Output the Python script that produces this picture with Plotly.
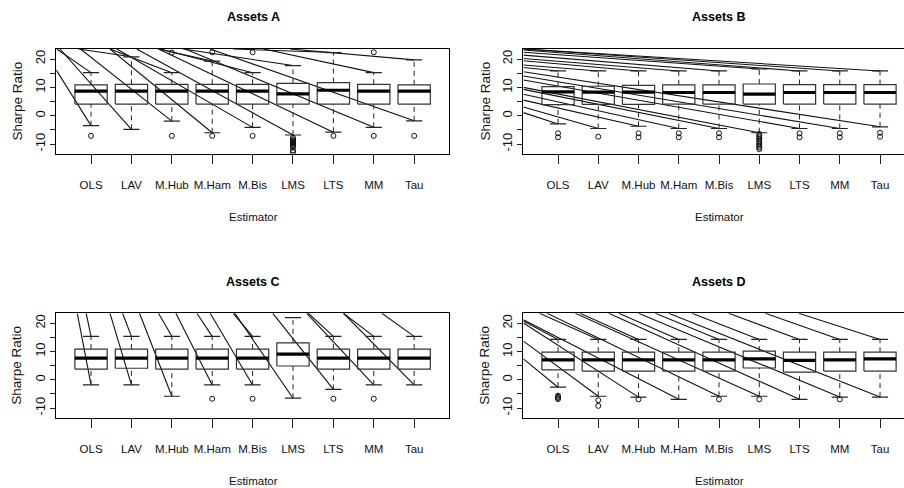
import plotly.graph_objects as go

# ---------------------------------------------------------------- data
estimators = ["OLS", "LAV", "M.Hub", "M.Ham", "M.Bis", "LMS", "LTS", "MM", "Tau"]
y_ticks = [-10, -5, 0, 5, 10, 15, 20]
y_tick_text = ["-10", "", "0", "", "10", "", "20"]
Y_LOW, Y_HIGH = -13.5, 23.55
X_LOW, X_HIGH = 0.14, 9.86

# Assets A: five-number summaries and outliers per estimator
a_lower = [-3.5, -4.8, -1.9, -6.0, -4.1, -6.8, -5.8, -4.1, -1.8]
a_q1 = [4.1, 4.1, 4.1, 4.1, 4.1, 4.1, 4.1, 4.1, 4.1]
a_med = [8.7, 8.7, 8.7, 8.7, 8.7, 7.7, 9.0, 8.7, 8.7]
a_q3 = [10.9, 11.1, 11.1, 11.1, 11.1, 11.4, 11.7, 11.1, 10.9]
a_upper = [15.2, 20.8, 15.2, 19.3, 15.2, 17.7, 22.3, 15.2, 19.7]
a_out = [[-7.1], [], [22.3, -7.1], [22.4, -7.1], [22.4, -7.1],
         [-7.8, -8.3, -8.7, -9.0, -9.3, -9.6, -9.9, -10.3, -10.7, -11.2, -12.2, -12.8],
         [-7.1], [22.4, -7.1], [-7.1]]
a_lead_up_x = [0.15, 0.69, 1.47, 2.67, 2.71, 3.28, 4.52, 5.27, 5.93]
a_lead_up_y = [Y_HIGH] * 9
a_lead_lo_x = [0.14, 0.23, 0.74, 1.47, 1.64, 2.13, 2.67, 3.33, 3.95]
a_lead_lo_y = [16.1, Y_HIGH, Y_HIGH, Y_HIGH, Y_HIGH, Y_HIGH, Y_HIGH, Y_HIGH, Y_HIGH]

# Assets B
b_lower = [-2.9, -4.5, -3.7, -4.5, -4.5, -6.0, -4.5, -4.5, -3.9]
b_q1 = [3.9, 4.0, 4.0, 4.1, 4.1, 4.1, 4.1, 4.1, 4.1]
b_med = [8.4, 8.3, 8.3, 8.2, 8.2, 7.6, 8.2, 8.2, 8.2]
b_q3 = [10.3, 10.4, 10.7, 10.9, 10.9, 11.2, 11.0, 11.0, 11.0]
b_upper = [15.8, 15.8, 15.8, 15.8, 15.8, 16.5, 15.8, 15.8, 15.8]
b_out = [[-6.2, -7.6], [-7.4], [-6.2, -7.6], [-6.2, -7.6], [-6.2, -7.6],
         [-6.4, -7.0, -7.6, -8.2, -8.8, -9.4, -10.0, -10.6, -11.2, -11.8],
         [-6.2, -7.6], [-6.2, -7.6], [-6.0, -7.4]]
b_lead_up_x = [0.14] * 9
b_lead_up_y = [17.0, 17.9, 19.4, 20.2, 21.4, 22.4, 23.2, Y_HIGH, Y_HIGH]
b_lead_lo_x = [0.14] * 9
b_lead_lo_y = [1.1, 3.1, 5.5, 7.6, 9.3, 10.0, 12.6, 14.0, 15.5]

# Assets C
c_lower = [-1.8, -1.8, -5.8, -1.8, -1.8, -6.5, -3.4, -1.8, -1.8]
c_q1 = [3.8, 4.1, 3.8, 3.8, 3.8, 4.9, 3.8, 3.8, 3.8]
c_med = [7.7, 7.7, 7.7, 7.7, 7.7, 9.1, 7.7, 7.7, 7.7]
c_q3 = [10.9, 10.9, 10.9, 10.9, 10.9, 13.1, 10.9, 10.9, 10.9]
c_upper = [15.4, 15.4, 15.4, 15.4, 15.4, 22.0, 15.4, 15.4, 15.4]
c_out = [[], [], [], [-6.7], [-6.7], [], [-6.7], [-6.7], []]
c_lead_up_x = [0.88, 1.78, 2.67, 3.62, 4.52, None, 6.38, 7.25, 8.20]
c_lead_up_y = [Y_HIGH] * 9
c_lead_lo_x = [0.66, 1.47, 2.20, 3.10, 3.95, 4.56, 5.50, 6.34, 7.25]
c_lead_lo_y = [Y_HIGH] * 9

# Assets D
d_lower = [-2.6, -5.8, -6.1, -6.9, -5.8, -5.8, -6.9, -6.1, -6.1]
d_q1 = [3.5, 3.1, 3.1, 3.1, 3.1, 4.2, 2.7, 3.1, 3.1]
d_med = [7.1, 7.1, 7.1, 7.1, 7.1, 7.4, 6.9, 7.1, 7.4]
d_q3 = [9.8, 9.8, 9.8, 9.8, 9.8, 10.2, 9.8, 9.8, 9.8]
d_upper = [14.3, 14.3, 14.3, 14.3, 14.3, 14.3, 14.3, 14.3, 14.3]
d_out = [[-5.6, -6.0, -6.4, -6.8], [-7.2, -9.2], [-6.9], [], [-6.9], [-6.9], [], [-6.9], []]
d_lead_up_x = [0.14, 0.54, 1.55, 2.51, 3.42, 4.33, 5.24, 6.15, 6.98]
d_lead_up_y = [20.8, Y_HIGH, Y_HIGH, Y_HIGH, Y_HIGH, Y_HIGH, Y_HIGH, Y_HIGH, Y_HIGH]
d_lead_lo_x = [0.14, 0.14, 0.14, 0.14, 0.73, 1.43, 2.26, 3.00, 3.75]
d_lead_lo_y = [7.4, 13.7, 20.1, 21.3, Y_HIGH, Y_HIGH, Y_HIGH, Y_HIGH, Y_HIGH]

panels = [
    dict(title="Assets A", lo=a_lower, q1=a_q1, med=a_med, q3=a_q3, hi=a_upper, out=a_out,
         ux=a_lead_up_x, uy=a_lead_up_y, lx=a_lead_lo_x, ly=a_lead_lo_y),
    dict(title="Assets B", lo=b_lower, q1=b_q1, med=b_med, q3=b_q3, hi=b_upper, out=b_out,
         ux=b_lead_up_x, uy=b_lead_up_y, lx=b_lead_lo_x, ly=b_lead_lo_y),
    dict(title="Assets C", lo=c_lower, q1=c_q1, med=c_med, q3=c_q3, hi=c_upper, out=c_out,
         ux=c_lead_up_x, uy=c_lead_up_y, lx=c_lead_lo_x, ly=c_lead_lo_y),
    dict(title="Assets D", lo=d_lower, q1=d_q1, med=d_med, q3=d_q3, hi=d_upper, out=d_out,
         ux=d_lead_up_x, uy=d_lead_up_y, lx=d_lead_lo_x, ly=d_lead_lo_y),
]

# ---------------------------------------------------------------- layout geometry
W, H = 904, 488
BOX_HALF, STAPLE_HALF = 0.4, 0.2
# plot-area pixel frames: (left, right, top, bottom); right column runs past the page edge
frames = [(56.3, 448.9, 49.0, 154.0),
          (523.4, 904.0, 49.0, 154.0),
          (56.3, 448.9, 313.3, 418.0),
          (523.4, 904.0, 313.3, 418.0)]
x_ranges = [[X_LOW, X_HIGH], [X_LOW, X_LOW + (904.0 - 523.4) / 40.25],
            [X_LOW, X_HIGH], [X_LOW, X_LOW + (904.0 - 523.4) / 40.25]]
title_pos = [(253, 17), (719, 17), (253, 282), (719, 282)]
xlab_pos = [(253, 217), (719, 217), (253, 481), (719, 481)]
ylab_pos = [(17, 101.5), (485, 101.5), (17, 365.7), (485, 365.7)]

SANS = "Liberation Sans, Arial, Helvetica, sans-serif"

fig = go.Figure()
annotations = []
layout = {}

for k, p in enumerate(panels):
    sfx = "" if k == 0 else str(k + 1)
    xref, yref = "x" + sfx, "y" + sfx

    box_x, box_y, med_x, med_y = [], [], [], []
    wh_x, wh_y, st_x, st_y = [], [], [], []
    out_x, out_y, ld_x, ld_y = [], [], [], []
    for i in range(len(estimators)):
        c = i + 1
        box_x += [c - BOX_HALF, c + BOX_HALF, c + BOX_HALF, c - BOX_HALF, c - BOX_HALF, None]
        box_y += [p["q1"][i], p["q1"][i], p["q3"][i], p["q3"][i], p["q1"][i], None]
        med_x += [c - BOX_HALF, c + BOX_HALF, None]
        med_y += [p["med"][i], p["med"][i], None]
        wh_x += [c, c, None, c, c, None]
        wh_y += [p["lo"][i], p["q1"][i], None, p["q3"][i], p["hi"][i], None]
        st_x += [c - STAPLE_HALF, c + STAPLE_HALF, None, c - STAPLE_HALF, c + STAPLE_HALF, None]
        st_y += [p["lo"][i], p["lo"][i], None, p["hi"][i], p["hi"][i], None]
        for v in p["out"][i]:
            out_x.append(c)
            out_y.append(v)
        if p["ux"][i] is not None:
            ld_x += [p["ux"][i], c, None]
            ld_y += [p["uy"][i], p["hi"][i], None]
        if p["lx"][i] is not None:
            ld_x += [p["lx"][i], c, None]
            ld_y += [p["ly"][i], p["lo"][i], None]

    common = dict(xaxis=xref, yaxis=yref, hoverinfo="skip", showlegend=False)
    fig.add_trace(go.Scatter(x=ld_x, y=ld_y, mode="lines",
                             line=dict(color="#111111", width=1.1), **common))
    fig.add_trace(go.Scatter(x=wh_x, y=wh_y, mode="lines",
                             line=dict(color="#222222", width=1, dash="5px,4px"), **common))
    fig.add_trace(go.Scatter(x=st_x, y=st_y, mode="lines",
                             line=dict(color="#222222", width=1.2), **common))
    fig.add_trace(go.Scatter(x=box_x, y=box_y, mode="lines",
                             line=dict(color="#333333", width=1.2), **common))
    fig.add_trace(go.Scatter(x=med_x, y=med_y, mode="lines",
                             line=dict(color="#000000", width=3.2), **common))
    fig.add_trace(go.Scatter(x=out_x, y=out_y, mode="markers",
                             marker=dict(symbol="circle-open", size=5, color="#111111",
                                         line=dict(width=1)), cliponaxis=False, **common))

    left, right, top, bottom = frames[k]
    right_col = k in (1, 3)
    layout["xaxis" + sfx] = dict(
        domain=[left / W, right / W], range=x_ranges[k], anchor=yref,
        tickmode="array", tickvals=list(range(1, len(estimators) + 1)), ticktext=estimators,
        ticks="outside", ticklen=9, tickwidth=1, tickcolor="#222222", tickangle=0,
        showline=True, linecolor="#000000", linewidth=1.2, mirror=True,
        showgrid=False, zeroline=False, ticklabelstandoff=11,
        tickfont=dict(family=SANS, size=11.5, color="#111111"))
    layout["yaxis" + sfx] = dict(
        domain=[1 - bottom / H, 1 - top / H], range=[Y_LOW, Y_HIGH], anchor=xref,
        tickmode="array", tickvals=y_ticks, ticktext=y_tick_text, tickangle=-90,
        ticks="outside", ticklen=5, tickwidth=1, tickcolor="#222222",
        showline=True, linecolor="#000000", linewidth=1.2, mirror=not right_col,
        showgrid=False, zeroline=False,
        tickfont=dict(family=SANS, size=13, color="#111111"))

    tx, ty = title_pos[k]
    annotations.append(dict(text="<b>" + p["title"] + "</b>", x=tx / W, y=1 - ty / H,
                            xref="paper", yref="paper", showarrow=False,
                            xanchor="center", yanchor="middle",
                            font=dict(family=SANS, size=12.5, color="#000000")))
    ex, ey = xlab_pos[k]
    annotations.append(dict(text="Estimator", x=ex / W, y=1 - ey / H,
                            xref="paper", yref="paper", showarrow=False,
                            xanchor="center", yanchor="middle",
                            font=dict(family=SANS, size=11.5, color="#111111")))
    sx, sy = ylab_pos[k]
    annotations.append(dict(text="Sharpe Ratio", x=sx / W, y=1 - sy / H, textangle=-90,
                            xref="paper", yref="paper", showarrow=False,
                            xanchor="center", yanchor="middle",
                            font=dict(family=SANS, size=13.5, color="#111111")))

fig.update_layout(width=W, height=H, autosize=False,
                  margin=dict(l=0, r=0, t=0, b=0),
                  paper_bgcolor="white", plot_bgcolor="white",
                  annotations=annotations, **layout)

fig.write_html("out.html")
